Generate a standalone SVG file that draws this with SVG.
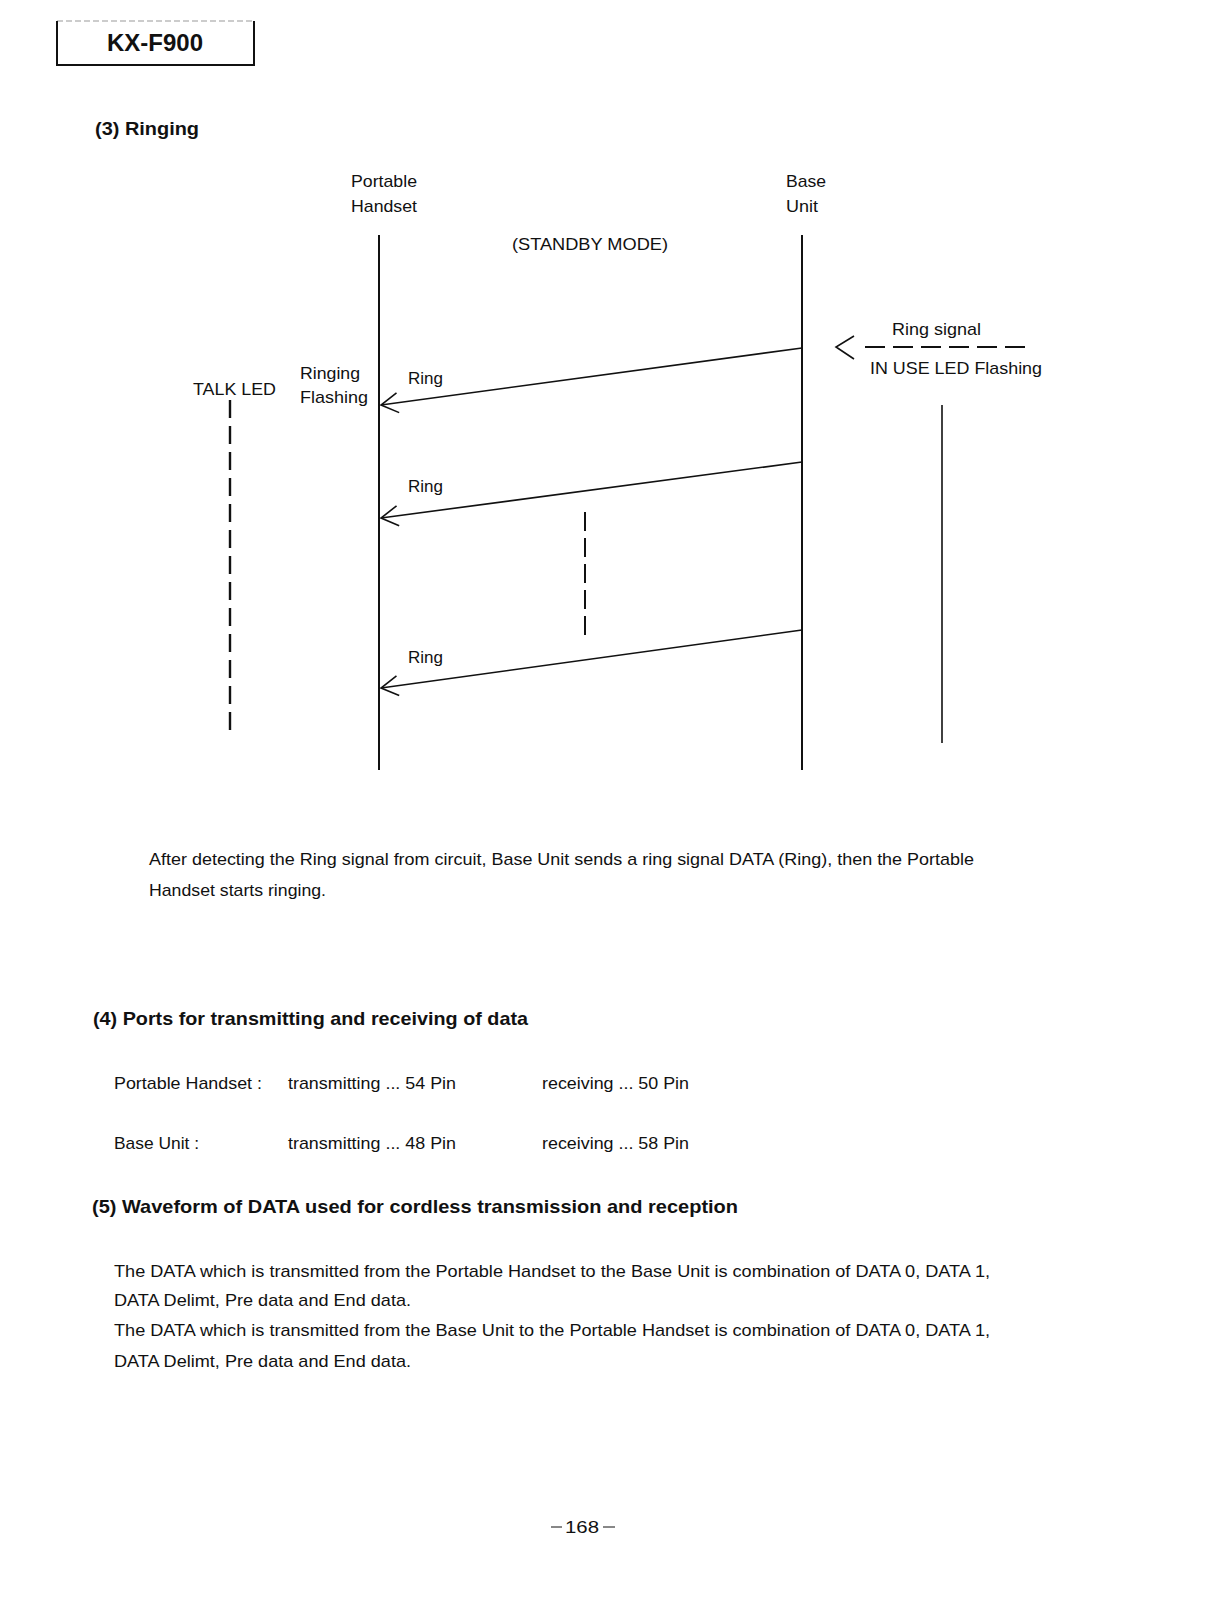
<svg xmlns="http://www.w3.org/2000/svg" width="1216" height="1614" viewBox="0 0 1216 1614">
<style>
text{font-family:"Liberation Sans",Arial,sans-serif;fill:#111}
.t{font-size:17px}
.h{font-size:19px;font-weight:bold}
.ln{stroke:#111;stroke-width:1.6;fill:none}
.lf{stroke:#111;stroke-width:2;fill:none}
.dash{stroke:#111;stroke-width:2.4;fill:none;stroke-dasharray:18 8}
</style>
<defs>
<marker id="open" markerUnits="userSpaceOnUse" markerWidth="30" markerHeight="30" refX="0" refY="0" viewBox="-20 -15 25 30" orient="auto">
<path d="M -17 -10 L 0 0 L -17 10" fill="none" stroke="#111" stroke-width="1.6"/>
</marker>
</defs>
<rect width="1216" height="1614" fill="#fff"/>
<g id="header">
<line x1="57" y1="21" x2="254" y2="21" stroke="#999" stroke-width="1" stroke-dasharray="6 3"/>
<path d="M57 21 V65 H254 V21" fill="none" stroke="#111" stroke-width="2"/>
<text x="155" y="51" font-size="23" font-weight="bold" text-anchor="middle" textLength="96" lengthAdjust="spacingAndGlyphs">KX-F900</text>
</g>
<g id="title3"><text class="h" x="95" y="135" textLength="104" lengthAdjust="spacingAndGlyphs">(3) Ringing</text></g>
<g id="portable">
<text class="t" x="351" y="187" textLength="66" lengthAdjust="spacingAndGlyphs">Portable</text>
<text class="t" x="351" y="212" textLength="66" lengthAdjust="spacingAndGlyphs">Handset</text>
<line class="lf" x1="379" y1="235" x2="379" y2="770"/>
</g>
<g id="base">
<text class="t" x="786" y="187" textLength="40" lengthAdjust="spacingAndGlyphs">Base</text>
<text class="t" x="786" y="212" textLength="32" lengthAdjust="spacingAndGlyphs">Unit</text>
<line class="lf" x1="802" y1="235" x2="802" y2="770"/>
</g>
<g id="standby"><text class="t" x="590" y="250" text-anchor="middle" textLength="156" lengthAdjust="spacingAndGlyphs">(STANDBY MODE)</text></g>
<g id="talkled">
<text class="t" x="193" y="395" textLength="83" lengthAdjust="spacingAndGlyphs">TALK LED</text>
<line class="dash" x1="230" y1="400" x2="230" y2="738"/>
</g>
<g id="ringing-flashing">
<text class="t" x="300" y="379" textLength="60" lengthAdjust="spacingAndGlyphs">Ringing</text>
<text class="t" x="300" y="403" textLength="68" lengthAdjust="spacingAndGlyphs">Flashing</text>
</g>
<g id="ring-signal">
<text class="t" x="892" y="335" textLength="89" lengthAdjust="spacingAndGlyphs">Ring signal</text>
<text class="t" x="870" y="374" textLength="172" lengthAdjust="spacingAndGlyphs">IN USE LED Flashing</text>
<line x1="942" y1="405" x2="942" y2="743" stroke="#111" stroke-width="1.6"/>
</g>
<g id="connectors">
<line class="ln" x1="802" y1="348" x2="381" y2="405" marker-end="url(#open)"/>
<line class="ln" x1="802" y1="462" x2="381" y2="518" marker-end="url(#open)"/>
<line class="ln" x1="802" y1="630" x2="381" y2="688" marker-end="url(#open)"/>
<line x1="585" y1="512" x2="585" y2="636" stroke="#111" stroke-width="2" stroke-dasharray="19 7"/>
<line x1="865" y1="347" x2="1033" y2="347" stroke="#111" stroke-width="2" stroke-dasharray="20 8"/>
<path d="M854 336 L836 347 L854 359" fill="none" stroke="#111" stroke-width="1.6"/>
</g>
<g id="ring-labels">
<text class="t" x="408" y="384">Ring</text>
<text class="t" x="408" y="492">Ring</text>
<text class="t" x="408" y="663">Ring</text>
</g>
<g id="para3">
<text class="t" x="149" y="865" textLength="825" lengthAdjust="spacingAndGlyphs">After detecting the Ring signal from circuit, Base Unit sends a ring signal DATA (Ring), then the Portable</text>
<text class="t" x="149" y="896" textLength="177" lengthAdjust="spacingAndGlyphs">Handset starts ringing.</text>
</g>
<g id="section4">
<text class="h" x="93" y="1025" textLength="435" lengthAdjust="spacingAndGlyphs">(4) Ports for transmitting and receiving of data</text>
<text class="t" x="114" y="1089" textLength="148" lengthAdjust="spacingAndGlyphs">Portable Handset :</text>
<text class="t" x="288" y="1089" textLength="168" lengthAdjust="spacingAndGlyphs">transmitting ... 54 Pin</text>
<text class="t" x="542" y="1089" textLength="147" lengthAdjust="spacingAndGlyphs">receiving ... 50 Pin</text>
<text class="t" x="114" y="1149" textLength="85" lengthAdjust="spacingAndGlyphs">Base Unit :</text>
<text class="t" x="288" y="1149" textLength="168" lengthAdjust="spacingAndGlyphs">transmitting ... 48 Pin</text>
<text class="t" x="542" y="1149" textLength="147" lengthAdjust="spacingAndGlyphs">receiving ... 58 Pin</text>
</g>
<g id="section5">
<text class="h" x="92" y="1213" textLength="646" lengthAdjust="spacingAndGlyphs">(5) Waveform of DATA used for cordless transmission and reception</text>
<text class="t" x="114" y="1277" textLength="876" lengthAdjust="spacingAndGlyphs">The DATA which is transmitted from the Portable Handset to the Base Unit is combination of DATA 0, DATA 1,</text>
<text class="t" x="114" y="1306" textLength="297" lengthAdjust="spacingAndGlyphs">DATA Delimt, Pre data and End data.</text>
<text class="t" x="114" y="1336" textLength="876" lengthAdjust="spacingAndGlyphs">The DATA which is transmitted from the Base Unit to the Portable Handset is combination of DATA 0, DATA 1,</text>
<text class="t" x="114" y="1367" textLength="297" lengthAdjust="spacingAndGlyphs">DATA Delimt, Pre data and End data.</text>
</g>
<g id="pagenum">
<line x1="551" y1="1527" x2="562" y2="1527" stroke="#111" stroke-width="1"/>
<text class="t" x="582" y="1533" text-anchor="middle" font-size="18" textLength="34" lengthAdjust="spacingAndGlyphs">168</text>
<line x1="603" y1="1527" x2="615" y2="1527" stroke="#111" stroke-width="1"/>
</g>
</svg>
